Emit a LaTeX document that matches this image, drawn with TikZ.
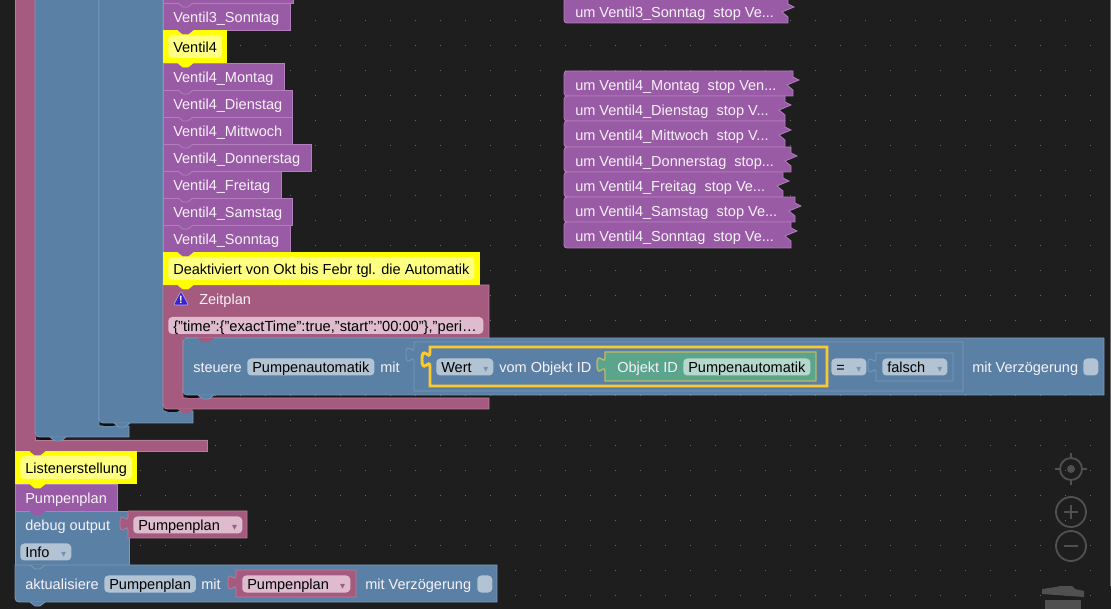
\documentclass[tikz,border=0pt]{standalone}
\usepackage{fontspec}
\setmainfont{Liberation Sans}
\newfontfamily\symbolfont{DejaVu Sans}
\definecolor{BackColor}{RGB}{30,30,30}
\definecolor{ShadowColor}{RGB}{14,14,14}
\definecolor{DotColor}{RGB}{105,105,105}
\definecolor{PurpleColor}{RGB}{154,91,166}
\definecolor{PurpleLine}{RGB}{178,126,188}
\definecolor{BlueColor}{RGB}{91,128,165}
\definecolor{BlueLine}{RGB}{124,153,183}
\definecolor{BlueField}{RGB}{178,195,212}
\definecolor{BlueMark}{RGB}{118,148,180}
\definecolor{WineColor}{RGB}{165,91,128}
\definecolor{WineLine}{RGB}{183,124,153}
\definecolor{WineField}{RGB}{222,187,205}
\definecolor{GreenColor}{RGB}{91,165,140}
\definecolor{GreenField}{RGB}{182,216,204}
\definecolor{GreenLine}{RGB}{190,185,100}
\definecolor{NoteColor}{RGB}{255,255,0}
\definecolor{NoteField}{RGB}{255,255,130}
\definecolor{PickColor}{RGB}{252,200,48}
\definecolor{IconColor}{RGB}{58,34,200}
\definecolor{ControlColor}{RGB}{80,80,80}
\usetikzlibrary{positioning}
\newcommand{\dropmark}[1]{\hfill\textcolor{#1}{\symbolfont\fontsize{7.5}{7.5}\selectfont ▾}\hspace{4.5pt}}
\tikzstyle{purpleblock} = [fill=PurpleColor, draw=PurpleLine, line width=0.6pt]
\tikzstyle{blueblock} = [fill=BlueColor, draw=BlueLine, line width=0.6pt]
\tikzstyle{wineblock} = [fill=WineColor, draw=WineLine, line width=0.6pt]
\tikzstyle{noteblock} = [fill=NoteColor]
\tikzstyle{blocktext} = [anchor=base west, inner sep=0pt, yshift=-0.5pt, text=white!92!PurpleColor]
\tikzstyle{field} = [anchor=west, inner xsep=3.75pt, inner ysep=0pt, minimum height=12.75pt, rounded corners=3pt, text=black, text height=9.6pt, text depth=0.9pt]
\tikzstyle{bluefield} = [field, fill=BlueField]
\tikzstyle{winefield} = [field, fill=WineField]
\tikzstyle{greenfield} = [field, fill=GreenField]
\tikzstyle{notefield} = [field, fill=NoteField, minimum height=17.25pt]
\tikzstyle{control} = [draw=ControlColor, line width=1.4pt]
% tab under a block, hanging into the next one
\newcommand{\tabunder}[4]{\filldraw[fill=#3, draw=#4, line width=0.6pt] (#1+15,#2) -- (#1+20,#2+4) -- (#1+25,#2+4) -- (#1+30,#2);}
% puzzle piece on the left of a value block, drawn upwards from its lower end
\newcommand{\puzzle}[2]{(#1,#2) .. controls (#1,#2-10) and (#1-8,#2+8) .. (#1-8,#2-7.5) .. controls (#1-8,#2-23) and (#1,#2-5) .. (#1,#2-15)}
% purple block with the arrow cut on its right side
\newcommand{\umblock}[5]{
  \draw[purpleblock] (564,#2+7) .. controls (564,#2) and (564,#2) .. (571,#2) -- (#4,#2) -- (#4,#2+6) -- (#4+6,#2+9) -- (#4-6,#2+14) -- (#4,#2+19) -- (#4,#3) -- (571,#3) .. controls (564,#3) and (564,#3) .. (564,#3-6) -- cycle;
  \node[blocktext] (#1) at (575,#2+19) {#5};
}
\begin{document}
\begin{tikzpicture}[x=0.75pt,y=-0.75pt,font=\fontsize{10.9}{13}\selectfont]
  \useasboundingbox (0,0) rectangle (1111,609);
  \fill[BackColor] (0,0) rectangle (1111,609);
  \foreach \i in {0,...,43}
    \foreach \j in {0,...,23}
      \fill[DotColor] (15+25*\i,20+25*\j) rectangle +(1,1);

  % outer frames
  \draw[wineblock] (15,-5) -- (35,-5) -- (35,440) -- (207,440) -- (207,451) -- (15,451) -- cycle;
  \fill[ShadowColor, rounded corners=5pt] (35,420) rectangle (54,440);
  \draw[blueblock] (35,-5) -- (35,428) .. controls (35,437) and (35,437) .. (44,437) -- (129,437) -- (129,426) -- (99,426) -- (99,-5) -- cycle;
  \filldraw[fill=BlueColor, draw=BlueLine, line width=0.6pt] (50,437) -- (55,441) -- (61,441) -- (66,437);
  \fill[ShadowColor, rounded corners=5pt] (99,405) rectangle (118,426);
  \draw[blueblock] (99,-5) -- (99,414) .. controls (99,423) and (99,423) .. (108,423) -- (193,423) -- (193,411) -- (163,411) -- (163,-5) -- cycle;
  \filldraw[fill=BlueColor, draw=BlueLine, line width=0.6pt] (114,423) -- (119,427) -- (125,427) -- (130,423);

  % purple blocks of the left column
  \draw[purpleblock] (163,-10) rectangle (293,3);
  \draw[purpleblock] (163,3) rectangle (290,30);
  \tabunder{163}{3}{PurpleColor}{PurpleLine}
  \node[blocktext] (ventil3sonntag) at (173,22) {Ventil3\_Sonntag};
  \foreach \name/\ytop/\xright in {Montag/63/284,Dienstag/90/292,Mittwoch/117/292,Donnerstag/144/311,Freitag/171/281,Samstag/198/292,Sonntag/225/290} {
    \draw[purpleblock] (163,\ytop) rectangle (\xright,\ytop+27);
    \tabunder{163}{\ytop}{PurpleColor}{PurpleLine}
    \node[blocktext] (ventil4\name) at (173,\ytop+19) {Ventil4\_\name};
  }

  % comment blocks
  \fill[noteblock] (163,30) rectangle (227,63);
  \tabunder{163}{30}{PurpleColor}{PurpleColor}
  \node[notefield] (noteventil) at (168,46.5) {Ventil4};
  \tabunder{163}{63}{NoteColor}{NoteColor}

  % Zeitplan with its inner statement
  \fill[ShadowColor, rounded corners=5pt] (163,395) rectangle (182,412);
  \draw[wineblock] (163,285) -- (489,285) -- (489,338) -- (183,338) -- (183,398) -- (489,398) -- (489,409) -- (172,409) .. controls (163,409) and (163,409) .. (163,400) -- cycle;
  \fill[noteblock] (163,252) rectangle (480,285);
  \tabunder{163}{252}{PurpleColor}{PurpleColor}
  \node[notefield] (notezeit) at (168,268.5) {Deaktiviert von Okt bis Febr tgl. die Automatik};
  \tabunder{163}{285}{NoteColor}{NoteColor}
  \filldraw[fill=IconColor, draw=white!60!IconColor, line width=0.5pt, rounded corners=1pt] (181,291) -- (188.5,305) -- (173.5,305) -- cycle;
  \node[anchor=center, inner sep=0pt, text=white, font=\bfseries\fontsize{8}{8}\selectfont] (warnmark) at (181,299.5) {!};
  \node[blocktext] (zeitplan) at (199,304) {Zeitplan};
  \node[winefield, text width=228.75pt, font=\fontsize{11}{13}\selectfont] (zeitjson) at (168,325.5) {\{"time":\{"exactTime":true,"start":"00:00"\},"peri…};

  \fill[ShadowColor, rounded corners=5pt] (183,380) rectangle (202,398);
  \draw[blueblock] (192,338) -- (1104,338) -- (1104,395) -- (192,395) .. controls (183,395) and (183,395) .. (183,386) -- (183,347) .. controls (183,338) and (183,338) .. (192,338) -- cycle;
  \filldraw[fill=WineColor, draw=WineColor] (198,338) -- (203,342) -- (209,342) -- (214,338);
  \filldraw[fill=BlueColor, draw=BlueLine, line width=0.6pt] (198,395) -- (203,399) -- (209,399) -- (214,395);
  \tabunder{163}{409}{WineColor}{WineColor}
  \node[blocktext] (steuere) at (193,372) {steuere};
  \node[bluefield] (steuerefield) at (247,367) {Pumpenautomatik};
  \node[blocktext] (steueremit) at (380,372) {mit};

  % compare block (only its outline shows)
  \draw[BlueLine, line width=0.6pt] (414,342) -- (963,342) -- (963,391) -- (414,391) -- \puzzle{414}{362} -- cycle;
  \draw[fill=BlueColor, draw=PickColor, line width=2.2pt] (430,347) -- (827,347) -- (827,386) -- (430,386) -- \puzzle{430}{367} -- cycle;
  \node[bluefield, text width=35.25pt] (wertfield) at (436,367) {Wert\dropmark{BlueMark}};
  \node[blocktext] (vomobjekt) at (499,372) {vom Objekt ID};
  \draw[fill=GreenColor, draw=GreenLine, line width=1pt] (605,352) -- (816,352) -- (816,381) -- (605,381) -- \puzzle{605}{372} -- cycle;
  \node[blocktext] (objektid) at (617,372) {Objekt ID};
  \node[greenfield] (objektfield) at (683,367) {Pumpenautomatik};
  \node[bluefield, text width=18.75pt] (gleichfield) at (831,367) {=\dropmark{BlueMark}};
  \draw[BlueLine, line width=0.6pt] (876,353) -- (953,353) -- (953,381) -- (876,381) -- \puzzle{876}{373} -- cycle;
  \node[bluefield, text width=41.25pt] (falschfield) at (882,367) {falsch\dropmark{BlueMark}};
  \node[blocktext] (verzoegerung) at (972,372) {mit Verzögerung};
  \node[bluefield, minimum width=11.25pt, inner xsep=0pt] (verzoegerungbox) at (1083,367) {};

  % right column
  \umblock{umdrei}{-2}{23}{788}{um Ventil3\_Sonntag\ \ stop Ve...}
  \umblock{ummontag}{71}{96}{793}{um Ventil4\_Montag\ \ stop Ven...}
  \umblock{umdienstag}{96}{121}{785}{um Ventil4\_Dienstag\ \ stop V...}
  \umblock{ummittwoch}{121}{147}{785}{um Ventil4\_Mittwoch\ \ stop V...}
  \umblock{umdonnerstag}{147}{172}{791}{um Ventil4\_Donnerstag\ \ stop...}
  \umblock{umfreitag}{172}{197}{783}{um Ventil4\_Freitag\ \ stop Ve...}
  \umblock{umsamstag}{197}{222}{795}{um Ventil4\_Samstag\ \ stop Ve...}
  \umblock{umsonntag}{222}{248}{791}{um Ventil4\_Sonntag\ \ stop Ve...}

  % bottom group
  \fill[noteblock] (15,451) rectangle (137,484);
  \tabunder{15}{451}{WineColor}{WineColor}
  \node[notefield] (notelisten) at (20,467.5) {Listenerstellung};
  \draw[purpleblock] (15,484) rectangle (117,511);
  \tabunder{15}{484}{NoteColor}{NoteColor}
  \node[blocktext] (pumpenplan) at (25,503) {Pumpenplan};
  \draw[blueblock] (15,511) -- (129,511) -- (129,565) -- (15,565) -- cycle;
  \tabunder{15}{511}{PurpleColor}{PurpleColor}
  \node[blocktext] (debugoutput) at (25,530) {debug output};
  \draw[wineblock] (128,511) -- (247,511) -- (247,538) -- (128,538) -- \puzzle{128}{531} -- cycle;
  \node[winefield, text width=74.25pt] (debugfield) at (133,525) {Pumpenplan\dropmark{WineColor}};
  \node[bluefield, text width=30.75pt] (infofield) at (20,552) {Info\dropmark{BlueMark}};
  \draw[blueblock] (15,565) -- (497,565) -- (497,602) -- (24,602) .. controls (15,602) and (15,602) .. (15,593) -- cycle;
  \tabunder{15}{565}{BlueColor}{BlueLine}
  \tabunder{15}{602}{BlueColor}{BlueLine}
  \node[blocktext] (aktualisiere) at (25,589) {aktualisiere};
  \node[bluefield] (aktfield) at (104,584) {Pumpenplan};
  \node[blocktext] (aktmit) at (201,589) {mit};
  \draw[wineblock] (236,570) -- (356,570) -- (356,597) -- (236,597) -- \puzzle{236}{590} -- cycle;
  \node[winefield, text width=73.5pt] (aktwert) at (242,584) {Pumpenplan\dropmark{WineColor}};
  \node[blocktext] (aktverz) at (365,589) {mit Verzögerung};
  \node[bluefield, minimum width=11.25pt, inner xsep=0pt] (aktbox) at (477,584) {};

  % workspace controls
  \draw[control] (1071,469) circle (11);
  \fill[ControlColor] (1071,469) circle (4);
  \draw[control] (1071,453) -- (1071,458) (1071,480) -- (1071,485) (1055,469) -- (1060,469) (1082,469) -- (1087,469);
  \draw[control] (1071,512) circle (15);
  \draw[control] (1064,512) -- (1078,512) (1071,505) -- (1071,519);
  \draw[control] (1071,546) circle (15);
  \draw[control] (1064,546) -- (1078,546);
  \fill[ControlColor] (1042,589) -- (1056,587) -- (1060,586) -- (1072,586) -- (1075,589) -- (1084,591) -- (1084,597) -- (1042,594) -- cycle;
  \fill[ControlColor] (1045,600) rectangle (1081,609);
  \fill[black!70!BackColor!60!white] (1110,0) rectangle (1111,586);
\end{tikzpicture}
\end{document}
